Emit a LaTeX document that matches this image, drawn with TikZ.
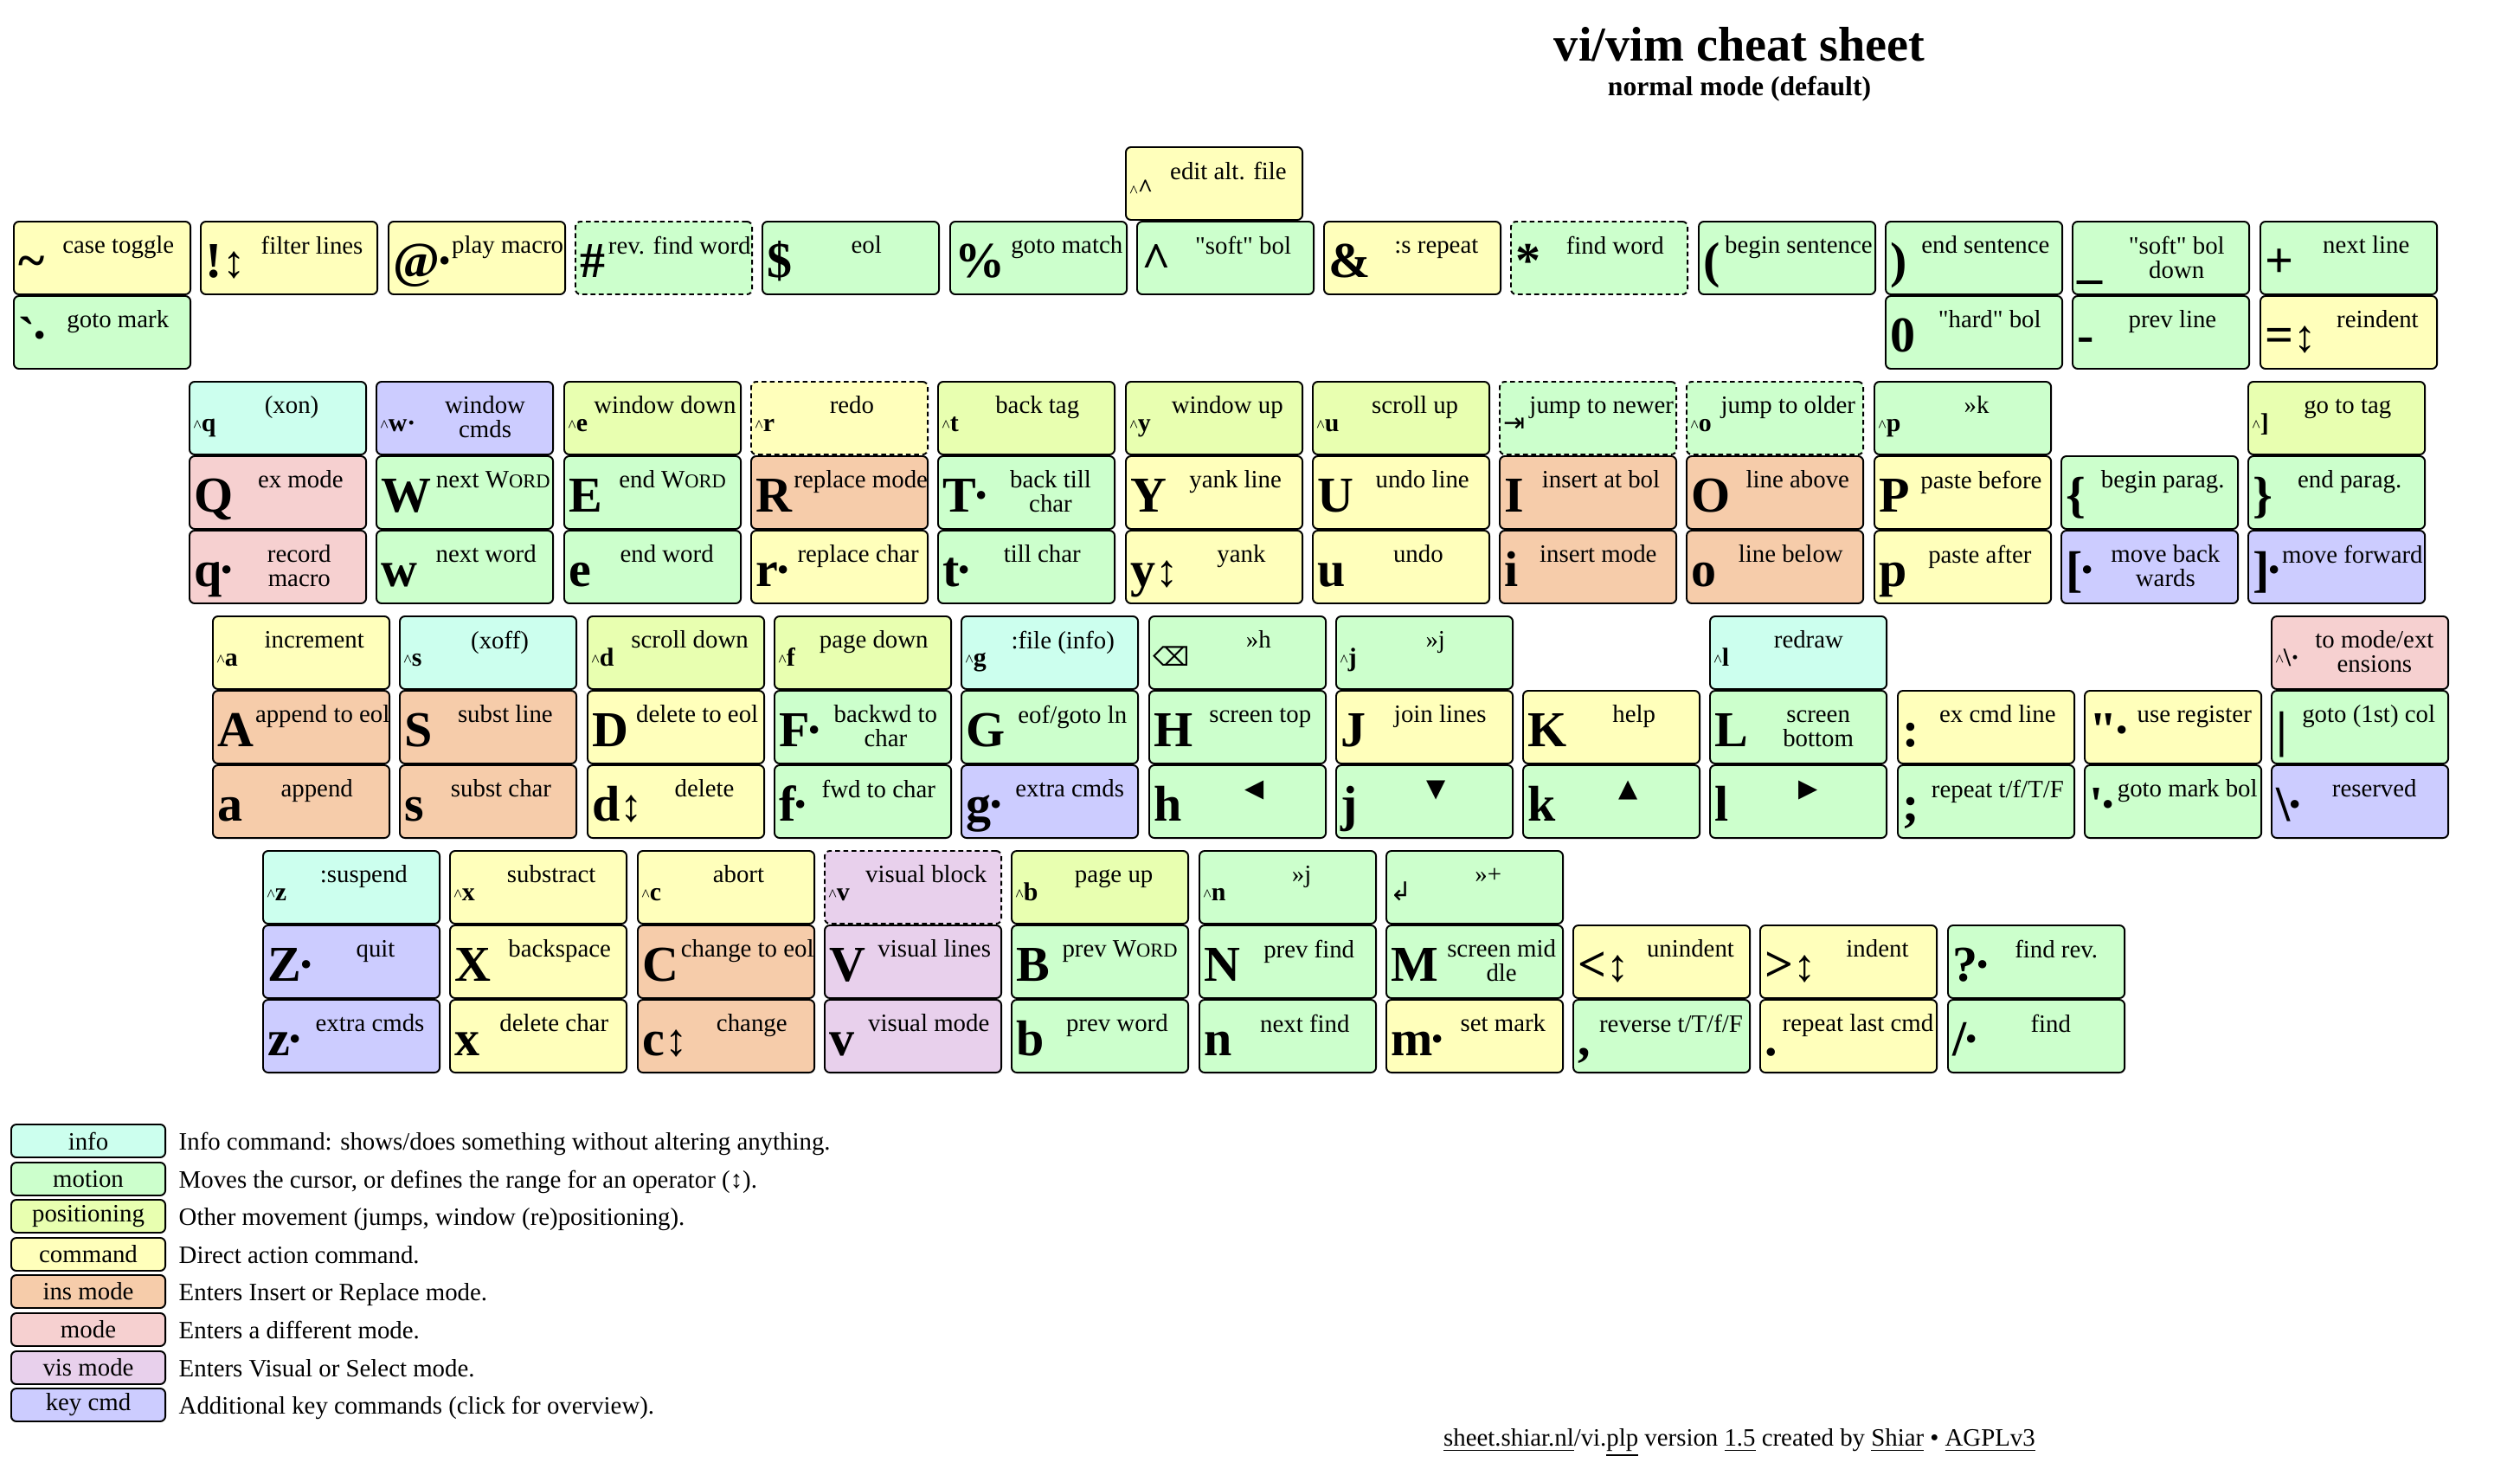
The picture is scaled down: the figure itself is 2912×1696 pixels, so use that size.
\documentclass[tikz,border=0pt]{standalone}
\usepackage{fontspec}
\setmainfont{Liberation Serif}[Ligatures=TeXOff]
\newfontfamily\vksymfont{DejaVu Sans}
\usetikzlibrary{calc,positioning}
\definecolor{vkinfo}{RGB}{204,255,238}
\definecolor{vkmotion}{RGB}{204,255,204}
\definecolor{vkpos}{RGB}{232,255,176}
\definecolor{vkcmd}{RGB}{255,255,187}
\definecolor{vkins}{RGB}{246,204,170}
\definecolor{vkmode}{RGB}{246,208,208}
\definecolor{vkvis}{RGB}{232,208,236}
\definecolor{vkkey}{RGB}{204,204,255}
\definecolor{vkline}{RGB}{0,0,0}
\newcommand\kctl{{\fontsize{5.5}{5.5}\selectfont\mdseries\textasciicircum}}
\newcommand\kopr{{\fontsize{15}{15}\selectfont\mdseries ↕}}
\newcommand\kdt{\kern-1.2pt·\kern-1.5pt}
\newcommand\kWORD{W{\fontsize{6.4}{6.4}\selectfont ORD}}
\newcommand\vksym[1]{{\vksymfont\mdseries #1}}
\tikzset{
  vkKey/.style={draw=vkline, line width=0.55pt, rounded corners=0.06cm,
                anchor=north west, inner sep=0pt,
                minimum width=2.04cm, minimum height=0.84cm},
  vkChar/.style={anchor=base west, inner sep=0pt,
                 font=\fontsize{16.5}{16.5}\selectfont\bfseries},
  vkCtrl/.style={anchor=base west, inner sep=0pt,
                 font=\fontsize{8.5}{8.5}\selectfont\bfseries},
  vkDesc/.style={anchor=north, inner sep=0pt, align=center,
                 font=\fontsize{8.2}{8}\selectfont},
  cInfo/.style={fill=vkinfo},
  cMotion/.style={fill=vkmotion},
  cPos/.style={fill=vkpos},
  cCmd/.style={fill=vkcmd},
  cIns/.style={fill=vkins},
  cMode/.style={fill=vkmode},
  cVis/.style={fill=vkvis},
  cKey/.style={fill=vkkey},
  cNew/.style={dash pattern=on 1.6pt off 1.1pt},
  vkLegBox/.style={draw=vkline, line width=0.55pt, rounded corners=0.06cm,
                   anchor=north west, inner sep=0pt,
                   minimum width=1.78cm, minimum height=0.38cm,
                   font=\fontsize{8.2}{8}\selectfont},
  vkLegText/.style={anchor=base west, inner sep=0pt,
                    font=\fontsize{8.2}{8}\selectfont}
}
\newcommand\vkey[6]{%
  \node[vkKey,#4] (#1) at (#2,#3) {};
  \node[vkChar] (#1c) at (#2+6,#3+65) {#5};
  \coordinate (#1m) at ($(#1c.east)!.5!(#1.east)$);
  \coordinate (#1t) at (#2,#3+17);
  \node[vkDesc] at (#1m |- #1t) {\vphantom{(}#6};
}
\newcommand\ckey[6]{%
  \node[vkKey,#4] (#1) at (#2,#3) {};
  \node[vkCtrl] (#1c) at (#2+5,#3+58) {#5};
  \coordinate (#1m) at ($(#1c.east)!.5!(#1.east)$);
  \coordinate (#1t) at (#2,#3+17);
  \node[vkDesc] at (#1m |- #1t) {\vphantom{(}#6};
}

\begin{document}
\begin{tikzpicture}[x=0.01cm,y=-0.01cm]
  \path[fill=white] (0,0) rectangle (2912,1696);
  \node[anchor=base, font=\fontsize{16}{16}\selectfont\bfseries] (title) at (2010,70) {vi/vim cheat sheet};
  \node[anchor=base, font=\fontsize{9}{9}\selectfont\bfseries] (subtitle) at (2010,110) {normal mode (default)};

  \ckey{kalt}{1300}{169}{cCmd}{\kctl\textasciicircum}{edit alt. file}
  \vkey{ktilde}{15}{255}{cCmd}{\textasciitilde}{case toggle}
  \vkey{kbang}{231}{255}{cCmd}{!\kopr}{filter lines}
  \vkey{kat}{448}{255}{cCmd}{@\kdt}{play macro}
  \vkey{khash}{664}{255}{cMotion,cNew}{\#}{rev. find word}
  \vkey{kdollar}{880}{255}{cMotion}{\$}{eol}
  \vkey{kpercent}{1097}{255}{cMotion}{\%}{goto match}
  \vkey{kcaret}{1313}{255}{cMotion}{\textasciicircum}{"soft" bol}
  \vkey{kamp}{1529}{255}{cCmd}{\&}{:s repeat}
  \vkey{kstar}{1745}{255}{cMotion,cNew}{*}{find word}
  \vkey{klparen}{1962}{255}{cMotion}{(}{begin sentence}
  \vkey{krparen}{2178}{255}{cMotion}{)}{end sentence}
  \vkey{kunder}{2394}{255}{cMotion}{\_}{"soft" bol\\down}
  \vkey{kplus}{2611}{255}{cMotion}{+}{next line}
  \vkey{kbtick}{15}{341}{cMotion}{`\kdt}{goto mark}
  \vkey{kzero}{2178}{341}{cMotion}{0}{"hard" bol}
  \vkey{kminus}{2394}{341}{cMotion}{-}{prev line}
  \vkey{kequal}{2611}{341}{cCmd}{=\kopr}{reindent}

  \ckey{cq}{218}{440}{cInfo}{\kctl q}{(xon)}
  \ckey{cw}{434}{440}{cKey}{\kctl w·}{window\\cmds}
  \ckey{ce}{651}{440}{cPos}{\kctl e}{window down}
  \ckey{cr}{867}{440}{cCmd,cNew}{\kctl r}{redo}
  \ckey{ct}{1083}{440}{cPos}{\kctl t}{back tag}
  \ckey{cy}{1300}{440}{cPos}{\kctl y}{window up}
  \ckey{cu}{1516}{440}{cPos}{\kctl u}{scroll up}
  \ckey{ctab}{1732}{440}{cMotion,cNew}{\vksym{⇥}}{jump to newer}
  \ckey{co}{1948}{440}{cMotion,cNew}{\kctl o}{jump to older}
  \ckey{cp}{2165}{440}{cMotion}{\kctl p}{»k}
  \ckey{cbrack}{2597}{440}{cPos}{\kctl ]}{go to tag}
  \vkey{kQ}{218}{526}{cMode}{Q}{ex mode}
  \vkey{kW}{434}{526}{cMotion}{W}{next \kWORD}
  \vkey{kE}{651}{526}{cMotion}{E}{end \kWORD}
  \vkey{kR}{867}{526}{cIns}{R}{replace mode}
  \vkey{kT}{1083}{526}{cMotion}{T\kdt}{back till\\char}
  \vkey{kY}{1300}{526}{cCmd}{Y}{yank line}
  \vkey{kU}{1516}{526}{cCmd}{U}{undo line}
  \vkey{kI}{1732}{526}{cIns}{I}{insert at bol}
  \vkey{kO}{1948}{526}{cIns}{O}{line above}
  \vkey{kP}{2165}{526}{cCmd}{P}{paste before}
  \vkey{klbrace}{2381}{526}{cMotion}{\{}{begin parag.}
  \vkey{krbrace}{2597}{526}{cMotion}{\}}{end parag.}
  \vkey{kq}{218}{612}{cMode}{q\kdt}{record\\macro}
  \vkey{kw}{434}{612}{cMotion}{w}{next word}
  \vkey{ke}{651}{612}{cMotion}{e}{end word}
  \vkey{kr}{867}{612}{cCmd}{r\kdt}{replace char}
  \vkey{kt}{1083}{612}{cMotion}{t\kdt}{till char}
  \vkey{ky}{1300}{612}{cCmd}{y\kopr}{yank}
  \vkey{ku}{1516}{612}{cCmd}{u}{undo}
  \vkey{ki}{1732}{612}{cIns}{i}{insert mode}
  \vkey{ko}{1948}{612}{cIns}{o}{line below}
  \vkey{kp}{2165}{612}{cCmd}{p}{paste after}
  \vkey{klbrack}{2381}{612}{cKey}{[\kdt}{move back\\wards}
  \vkey{krbrack}{2597}{612}{cKey}{]\kdt}{move forward}

  \ckey{ca}{245}{711}{cCmd}{\kctl a}{increment}
  \ckey{cs}{461}{711}{cInfo}{\kctl s}{(xoff)}
  \ckey{cd}{678}{711}{cPos}{\kctl d}{scroll down}
  \ckey{cf}{894}{711}{cPos}{\kctl f}{page down}
  \ckey{cg}{1110}{711}{cInfo}{\kctl g}{:file (info)}
  \ckey{cbs}{1327}{711}{cMotion}{\vksym{⌫}}{»h}
  \ckey{cj}{1543}{711}{cMotion}{\kctl j}{»j}
  \ckey{cl}{1975}{711}{cInfo}{\kctl l}{redraw}
  \ckey{cbslash}{2624}{711}{cMode}{\kctl\textbackslash·}{to mode/ext\\ensions}
  \vkey{kA}{245}{797}{cIns}{A}{append to eol}
  \vkey{kS}{461}{797}{cIns}{S}{subst line}
  \vkey{kD}{678}{797}{cCmd}{D}{delete to eol}
  \vkey{kF}{894}{797}{cMotion}{F\kdt}{backwd to\\char}
  \vkey{kG}{1110}{797}{cMotion}{G}{eof/goto ln}
  \vkey{kH}{1327}{797}{cMotion}{H}{screen top}
  \vkey{kJ}{1543}{797}{cCmd}{J}{join lines}
  \vkey{kK}{1759}{797}{cCmd}{K}{help}
  \vkey{kL}{1975}{797}{cMotion}{L}{screen\\bottom}
  \vkey{kcolon}{2192}{797}{cCmd}{:}{ex cmd line}
  \vkey{kquote}{2408}{797}{cCmd}{"\kdt}{use register}
  \vkey{kbar}{2624}{797}{cMotion}{\textbar}{goto (1st) col}
  \vkey{ka}{245}{883}{cIns}{a}{append}
  \vkey{ks}{461}{883}{cIns}{s}{subst char}
  \vkey{kd}{678}{883}{cCmd}{d\kopr}{delete}
  \vkey{kf}{894}{883}{cMotion}{f\kdt}{fwd to char}
  \vkey{kg}{1110}{883}{cKey}{g\kdt}{extra cmds}
  \vkey{kh}{1327}{883}{cMotion}{h}{\vksym{◀}}
  \vkey{kj}{1543}{883}{cMotion}{j}{\vksym{▼}}
  \vkey{kk}{1759}{883}{cMotion}{k}{\vksym{▲}}
  \vkey{kl}{1975}{883}{cMotion}{l}{\vksym{▶}}
  \vkey{ksemi}{2192}{883}{cMotion}{;}{repeat t/f/T/F}
  \vkey{kapos}{2408}{883}{cMotion}{'\kdt}{goto mark bol}
  \vkey{kbslash}{2624}{883}{cKey}{\textbackslash\kdt}{reserved}

  \ckey{cz}{303}{982}{cInfo}{\kctl z}{:suspend}
  \ckey{cx}{519}{982}{cCmd}{\kctl x}{substract}
  \ckey{cc}{736}{982}{cCmd}{\kctl c}{abort}
  \ckey{cv}{952}{982}{cVis,cNew}{\kctl v}{visual block}
  \ckey{cb}{1168}{982}{cPos}{\kctl b}{page up}
  \ckey{cn}{1385}{982}{cMotion}{\kctl n}{»j}
  \ckey{cm}{1601}{982}{cMotion}{\vksym{↲}}{»+}
  \vkey{kZ}{303}{1068}{cKey}{Z\kdt}{quit}
  \vkey{kX}{519}{1068}{cCmd}{X}{backspace}
  \vkey{kC}{736}{1068}{cIns}{C}{change to eol}
  \vkey{kV}{952}{1068}{cVis}{V}{visual lines}
  \vkey{kB}{1168}{1068}{cMotion}{B}{prev \kWORD}
  \vkey{kN}{1385}{1068}{cMotion}{N}{prev find}
  \vkey{kM}{1601}{1068}{cMotion}{M}{screen mid\\dle}
  \vkey{klt}{1817}{1068}{cCmd}{<\kopr}{unindent}
  \vkey{kgt}{2033}{1068}{cCmd}{>\kopr}{indent}
  \vkey{kquest}{2250}{1068}{cMotion}{?\kdt}{find rev.}
  \vkey{kz}{303}{1154}{cKey}{z\kdt}{extra cmds}
  \vkey{kx}{519}{1154}{cCmd}{x}{delete char}
  \vkey{kc}{736}{1154}{cIns}{c\kopr}{change}
  \vkey{kv}{952}{1154}{cVis}{v}{visual mode}
  \vkey{kb}{1168}{1154}{cMotion}{b}{prev word}
  \vkey{kn}{1385}{1154}{cMotion}{n}{next find}
  \vkey{km}{1601}{1154}{cCmd}{m\kdt}{set mark}
  \vkey{kcomma}{1817}{1154}{cMotion}{,}{reverse t/T/f/F}
  \vkey{kdot}{2033}{1154}{cCmd}{.}{repeat last cmd}
  \vkey{kslash}{2250}{1154}{cMotion}{/\kdt}{find}

  \node[vkLegBox, fill=vkinfo] (linfo) at (12,1298) {info};
  \node[vkLegBox, fill=vkmotion] (lmotion) at (12,1342) {motion};
  \node[vkLegBox, fill=vkpos] (lpos) at (12,1385) {positioning};
  \node[vkLegBox, fill=vkcmd] (lcmd) at (12,1429) {command};
  \node[vkLegBox, fill=vkins] (lins) at (12,1472) {ins mode};
  \node[vkLegBox, fill=vkmode] (lmode) at (12,1516) {mode};
  \node[vkLegBox, fill=vkvis] (lvis) at (12,1560) {vis mode};
  \node[vkLegBox, fill=vkkey] (lkey) at (12,1603) {key cmd};
  \node[vkLegText] (tinfo) at ($(linfo.east)+(14,10)$) {Info command: shows/does something without altering anything.};
  \node[vkLegText] (tmotion) at ($(lmotion.east)+(14,10)$) {Moves the cursor, or defines the range for an operator (↕).};
  \node[vkLegText] (tpos) at ($(lpos.east)+(14,10)$) {Other movement (jumps, window (re)positioning).};
  \node[vkLegText] (tcmd) at ($(lcmd.east)+(14,10)$) {Direct action command.};
  \node[vkLegText] (tins) at ($(lins.east)+(14,10)$) {Enters Insert or Replace mode.};
  \node[vkLegText] (tmode) at ($(lmode.east)+(14,10)$) {Enters a different mode.};
  \node[vkLegText] (tvis) at ($(lvis.east)+(14,10)$) {Enters Visual or Select mode.};
  \node[vkLegText] (tkey) at ($(lkey.east)+(14,10)$) {Additional key commands (click for overview).};

  \node[anchor=base, inner sep=0pt, font=\fontsize{8.2}{8}\selectfont] (footer) at (2010,1670)
    {\underline{sheet.shiar.nl}/vi.\underline{plp} version \underline{1.5} created by \underline{Shiar} • \underline{AGPLv3}};
\end{tikzpicture}
\end{document}
